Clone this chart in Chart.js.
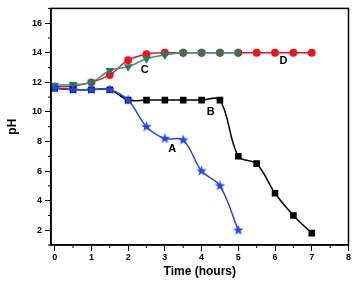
<!DOCTYPE html>
<html>
<head>
<meta charset="utf-8">
<script src="https://cdn.jsdelivr.net/npm/chart.js@4/dist/chart.umd.min.js"></script>
<style>
  html, body { margin: 0; padding: 0; background: #fff; }
  #wrap { width: 354px; height: 282px; }
</style>
</head>
<body>
<div id="wrap"><canvas id="phChart" width="354" height="282"></canvas></div>
<script>
// datos
const hours = [0, 0.5, 1, 1.5, 2, 2.5, 3, 3.5, 4, 4.5, 5, 5.5, 6, 6.5, 7];
const phA = [11.6, 11.5, 11.5, 11.5, 10.8, 9.0, 8.2, 8.1, 6.0, 5.0, 2.0];
const phB = [11.6, 11.5, 11.5, 11.5, 10.8, 10.8, 10.8, 10.8, 10.8, 10.8, 7.0, 6.5, 4.5, 3.0, 1.8];
const phC = [11.8, 11.85, 12.0, 12.8, 13.05, 13.6, 13.85, 14.0, 14.0, 14.0, 14.0];
const phD = [11.7, 11.75, 12.0, 12.5, 13.5, 13.9, 14.0, 14.0, 14.0, 14.0, 14.0, 14.0, 14.0, 14.0, 14.0];

const xTicks = [0, 0.5, 1, 1.5, 2, 2.5, 3, 3.5, 4, 4.5, 5, 5.5, 6, 6.5, 7, 7.5, 8];
const yTicks = [1, 2, 3, 4, 5, 6, 7, 8, 9, 10, 11, 12, 13, 14, 15, 16, 17];

// etiquetas de las curvas (posición en unidades de datos)
const curveLabels = [
    { text: 'A', x: 3.2, y: 7.5 },
    { text: 'B', x: 4.25, y: 10.0 },
    { text: 'C', x: 2.45, y: 12.85 },
    { text: 'D', x: 6.23, y: 13.45 }
];

const colors = {
    blue: '#2346f0',
    black: '#000000',
    green: '#2f9b7b',
    greenDark: '#1f7d60',
    red: '#f0141e'
};

const toPoints = (ys) => ys.map((v, i) => ({ x: hours[i], y: v }));

// estrella de 5 puntas para la serie A
function makeStar(size, color) {
    const c = document.createElement('canvas');
    c.width = size; c.height = size;
    const g = c.getContext('2d');
    const cx = size / 2, cy = size / 2, ro = size / 2, ri = ro * 0.42;
    g.beginPath();
    for (let i = 0; i < 10; i++) {
        const r = i % 2 === 0 ? ro : ri;
        const a = -Math.PI / 2 + i * Math.PI / 5;
        const px = cx + r * Math.cos(a), py = cy + r * Math.sin(a);
        if (i === 0) g.moveTo(px, py); else g.lineTo(px, py);
    }
    g.closePath();
    g.fillStyle = color;
    g.fill();
    return c;
}
const starImg = makeStar(11, colors.blue);

const boxAndLabels = {
    id: 'boxAndLabels',
    afterDraw(chart) {
        const { ctx, chartArea: a, scales } = chart;
        ctx.save();
        // marco
        ctx.strokeStyle = '#000';
        ctx.lineWidth = 1.5;
        ctx.strokeRect(a.left, a.top, a.right - a.left, a.bottom - a.top);
        // marcas menores
        ctx.lineWidth = 1;
        ctx.beginPath();
        xTicks.forEach(v => {
            if (v % 1 !== 0) {
                const px = scales.x.getPixelForValue(v);
                ctx.moveTo(px, a.bottom);
                ctx.lineTo(px, a.bottom + 3);
            }
        });
        yTicks.forEach(v => {
            if (v % 2 !== 0) {
                const py = scales.y.getPixelForValue(v);
                ctx.moveTo(a.left, py);
                ctx.lineTo(a.left - 3, py);
            }
        });
        ctx.stroke();
        // letras A-D
        ctx.fillStyle = '#000';
        ctx.font = 'bold 11px "Liberation Sans", Arial, sans-serif';
        ctx.textAlign = 'center';
        ctx.textBaseline = 'middle';
        curveLabels.forEach(l => {
            ctx.fillText(l.text, scales.x.getPixelForValue(l.x), scales.y.getPixelForValue(l.y));
        });
        ctx.restore();
    }
};

const tickFont = { family: '"Liberation Sans", Arial, sans-serif', size: 9, weight: 'bold' };
const titleFont = { family: '"Liberation Sans", Arial, sans-serif', size: 12, weight: 'bold' };

new Chart(document.getElementById('phChart'), {
    type: 'line',
    data: {
        datasets: [
            {
                label: 'A',
                data: toPoints(phA),
                borderColor: colors.blue,
                backgroundColor: colors.blue,
                borderWidth: 1.5,
                pointStyle: starImg,
                tension: 0.35
            },
            {
                label: 'C',
                data: toPoints(phC),
                borderColor: colors.green,
                backgroundColor: colors.greenDark,
                borderWidth: 1.5,
                pointStyle: 'triangle',
                rotation: 180,
                pointRadius: 3.5,
                pointBorderColor: colors.greenDark,
                cubicInterpolationMode: 'monotone'
            },
            {
                label: 'B',
                data: toPoints(phB),
                borderColor: colors.black,
                backgroundColor: colors.black,
                borderWidth: 1.5,
                pointStyle: 'rect',
                pointRadius: 3.6,
                tension: 0.35
            },
            {
                label: 'D',
                data: toPoints(phD),
                borderColor: colors.red,
                backgroundColor: colors.red,
                borderWidth: 1.5,
                pointStyle: 'circle',
                pointRadius: 3.2,
                cubicInterpolationMode: 'monotone'
            }
        ]
    },
    options: {
        responsive: false,
        animation: false,
        layout: { padding: { top: 2, right: 5, left: 0, bottom: 0 } },
        plugins: {
            legend: { display: false },
            tooltip: { enabled: false }
        },
        scales: {
            x: {
                type: 'linear',
                min: -0.1,
                max: 8,
                afterBuildTicks: (scale) => { scale.ticks = xTicks.map(v => ({ value: v })); },
                afterFit: (scale) => { scale.height = 37; },
                border: { color: '#000', width: 1.5 },
                grid: {
                    drawOnChartArea: false,
                    tickLength: 6,
                    tickColor: (ctx) => (ctx.tick && ctx.tick.value % 1 === 0) ? '#000' : 'rgba(0,0,0,0)'
                },
                ticks: {
                    color: '#000',
                    font: tickFont,
                    padding: 1,
                    maxRotation: 0,
                    autoSkip: false,
                    callback: (v) => (v % 1 === 0 ? String(v) : '')
                },
                title: {
                    display: true,
                    text: 'Time (hours)',
                    color: '#000',
                    font: titleFont,
                    padding: { top: 0, bottom: 3 }
                }
            },
            y: {
                min: 1,
                max: 17,
                afterBuildTicks: (scale) => { scale.ticks = yTicks.map(v => ({ value: v })); },
                afterFit: (scale) => { scale.width = 51; },
                border: { color: '#000', width: 1.5 },
                grid: {
                    drawOnChartArea: false,
                    tickLength: 6,
                    tickColor: (ctx) => (ctx.tick && ctx.tick.value % 2 === 0) ? '#000' : 'rgba(0,0,0,0)'
                },
                ticks: {
                    color: '#000',
                    font: tickFont,
                    padding: 3,
                    autoSkip: false,
                    callback: (v) => (v % 2 === 0 ? String(v) : '')
                },
                title: {
                    display: true,
                    text: 'pH',
                    color: '#000',
                    font: titleFont,
                    padding: { top: 5, bottom: 0 }
                }
            }
        }
    },
    plugins: [boxAndLabels]
});
</script>
</body>
</html>
